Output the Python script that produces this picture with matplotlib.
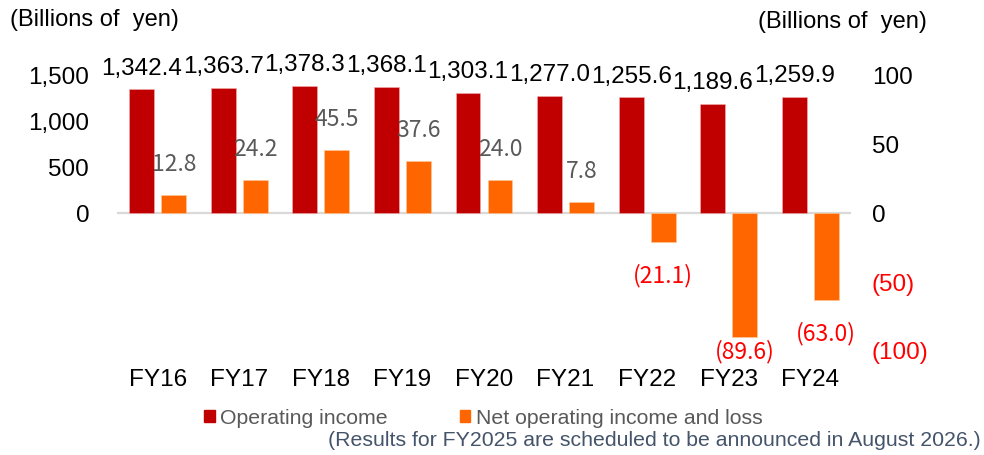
import matplotlib
matplotlib.use("Agg")
import matplotlib.pyplot as plt
import numpy as np
from matplotlib.patches import Patch
from matplotlib.ticker import FuncFormatter, FixedLocator

plt.rcParams['font.family'] = ['Liberation Sans', 'DejaVu Sans']

# data
years = ["FY16", "FY17", "FY18", "FY19", "FY20", "FY21", "FY22", "FY23", "FY24"]
operating_income = [1342.4, 1363.7, 1378.3, 1368.1, 1303.1, 1277.0, 1255.6, 1189.6, 1259.9]
net_operating = [12.8, 24.2, 45.5, 37.6, 24.0, 7.8, -21.1, -89.6, -63.0]

red = "#C00000"
orange = "#FF6600"
gray = "#595959"

fig = plt.figure(figsize=(9.84, 4.55), dpi=100)
ax = fig.add_axes([117 / 984, 1 - 351 / 455, (851 - 117) / 984, (351 - 75) / 455])
ax2 = ax.twinx()

x = np.arange(len(years))
w = 0.306
off = 0.196

ax.bar(x - off, operating_income, width=w, color=red, edgecolor="#F4B0B0", linewidth=0.4)
ax2.bar(x + off, net_operating, width=w, color=orange, edgecolor="#FFC89A", linewidth=0.4)

ax.set_xlim(-0.5, len(years) - 0.5)
ax.set_ylim(-1500, 1500)
ax2.set_ylim(-100, 100)

ax.axhline(0, color="#D9D9D9", lw=1.6, zorder=0)

for a in (ax, ax2):
    for s in a.spines.values():
        s.set_visible(False)

# left axis
ax.yaxis.set_major_locator(FixedLocator([0, 500, 1000, 1500]))
ax.yaxis.set_major_formatter(FuncFormatter(lambda v, p: f"{v:,.0f}"))
ax.tick_params(axis="y", length=0, pad=20, labelsize=17.5)
ax.set_xticks(x)
ax.set_xticklabels(years)
ax.tick_params(axis="x", length=0, pad=13, labelsize=17.5)

# right axis
ax2.yaxis.set_major_locator(FixedLocator([-100, -50, 0, 50, 100]))
ax2.yaxis.set_major_formatter(FuncFormatter(lambda v, p: f"({-v:.0f})" if v < 0 else f"{v:.0f}"))
ax2.tick_params(axis="y", length=0, pad=15, labelsize=17.5)
for t, v in zip(ax2.get_yticklabels(), [-100, -50, 0, 50, 100]):
    if v < 0:
        t.set_color("#FF0000")

# labels for operating income
for xi, v in zip(x, operating_income):
    ax.annotate(f"{v:,.1f}", (xi - off, v), xytext=(0, 7), textcoords="offset points",
                ha="center", va="bottom", fontsize=17.5, color="black")

# labels for net operating income
neg_shift = {"FY23": -11}
for name, xi, v in zip(years, x, net_operating):
    if v >= 0:
        txt, col, dy = f"{v:.1f}", gray, 22
    else:
        txt, col, dy = f"({-v:.1f})", "#FF0000", neg_shift.get(name, -24)
    ax2.annotate(txt, (xi + off, v), xytext=(0, dy), textcoords="offset points",
                 ha="center", va="center", fontsize=16.5, color=col,
                 family=["Noto Sans CJK JP", "DejaVu Sans"])

# unit labels
fig.text(10 / 984, 1 - 20 / 455, "(Billions of  yen)", fontsize=17, ha="left", va="center")
fig.text(927 / 984, 1 - 22 / 455, "(Billions of  yen)", fontsize=17, ha="right", va="center")

# legend
handles = [Patch(color=red, label="Operating income"),
           Patch(color=orange, label="Net operating income and loss")]
leg = fig.legend(handles=handles, loc="center", bbox_to_anchor=(0.491, 1 - 418 / 455), ncol=2,
                 frameon=False, fontsize=15.3, handlelength=0.5, handleheight=0.5,
                 handletextpad=0.25, columnspacing=3.4, labelcolor=gray)

fig.text(981 / 984, 1 - 441 / 455,
         "(Results for FY2025 are scheduled to be announced in August 2026.)",
         fontsize=15.3, ha="right", va="center", color="#44546A")

fig.savefig("out.png", dpi=100)
